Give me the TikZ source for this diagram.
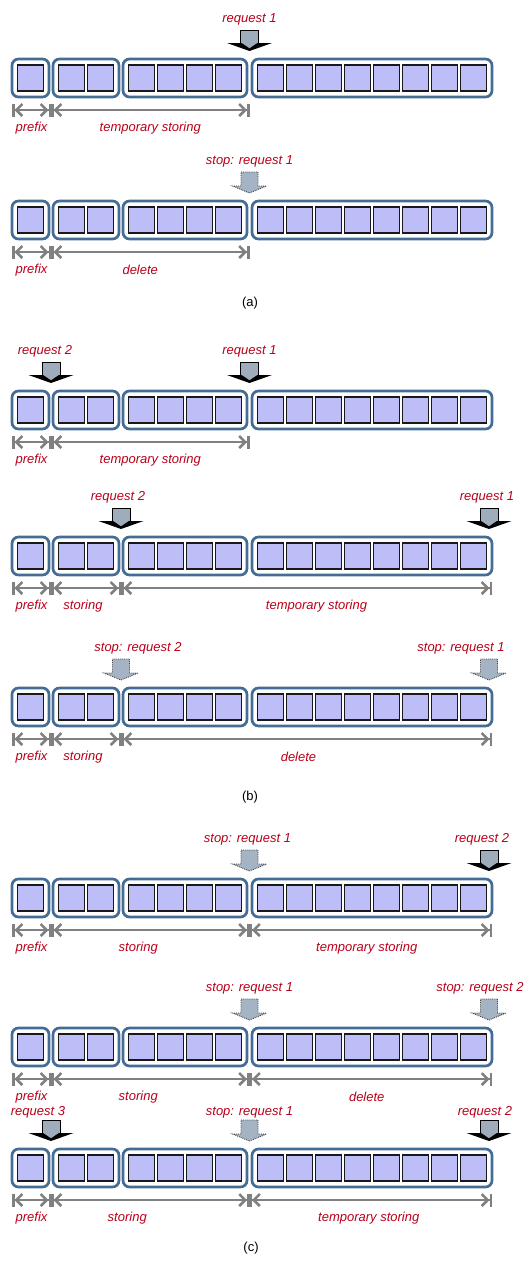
\documentclass[tikz,border=0pt]{standalone}
\usepackage{fontspec}
\setmainfont{Liberation Sans}
\usepackage{xcolor}
\usepackage{tikz}
\usetikzlibrary{arrows.meta,positioning,calc}

\definecolor{cellfill}{RGB}{189,189,247}
\definecolor{grpblue}{RGB}{68,108,148}
\definecolor{dimgrey}{RGB}{128,128,128}
\definecolor{labred}{RGB}{185,0,25}
\definecolor{arrfill}{RGB}{158,172,188}
\definecolor{stopfill}{RGB}{165,180,196}

\tikzset{
  reqarrow/.pic={
    \fill[black] (-22.5,-8) -- (22.5,-8) -- (0,0) -- cycle;
    \filldraw[fill=arrfill, draw=black, line width=0.8pt] (-9,-21) rectangle (9,-8);
    \fill[arrfill] (-8.2,-8.4) -- (8.2,-8.4) -- (0,-2.8) -- cycle;
  },
  stoparrow/.pic={
    \filldraw[fill=stopfill, draw=black!75, densely dotted, line width=0.9pt]
      (-8.5,-21) -- (8.5,-21) -- (8.5,-7) -- (17,-7) -- (0,0)
      -- (-17,-7) -- (-8.5,-7) -- cycle;
  }
}

% one buffer row: #1 = name, #2 = centre y
\newcommand{\bufrow}[2]{%
  \node[grp, minimum width=37pt]  (#1g1) at (30.5,#2) {};
  \node[grp, minimum width=66pt]  (#1g2) at (86,#2)   {};
  \node[grp, minimum width=124pt] (#1g3) at (185,#2)  {};
  \node[grp, minimum width=240pt] (#1g4) at (372,#2)  {};
  \node[cell] (#1p0) at (30.5,#2) {};
  \foreach \k in {0,1} {\node[cell] (#1s\k) at (71.5+29*\k,#2) {};}
  \foreach \k in {0,...,3} {\node[cell] (#1m\k) at (141.5+29*\k,#2) {};}
  \foreach \k in {0,...,7} {\node[cell] (#1r\k) at (270.5+29*\k,#2) {};}
  \foreach \bx [count=\i from 0] in {12,51,121,249.5,492}
    {\coordinate (#1d\i) at (\bx,#2+32);}
  \foreach \bx [count=\i from 0] in {12,51,121,249.5,489}
    {\coordinate (#1t\i) at (\bx,#2-27);}
}

\begin{document}
\begin{tikzpicture}[
  x=1pt, y=-1pt,
  grp/.style={rectangle, rounded corners=6.5pt, draw=grpblue, line width=2.7pt,
              fill=white, minimum height=38pt, inner sep=0pt},
  cell/.style={rectangle, draw=black!90, line width=1.4pt, fill=cellfill,
               minimum width=26pt, minimum height=26pt, inner sep=0pt},
  dim/.style={draw=dimgrey, line width=2.5pt,
              {Bar[width=13pt]Straight Barb[length=6pt,width=12pt]}-{Straight Barb[length=6pt,width=12pt]Bar[width=13pt]}},
  lbl/.style={font=\itshape\fontsize{13}{15}\selectfont, text=labred, inner sep=1pt},
  captext/.style={font=\fontsize{13}{15}\selectfont, inner sep=1pt}
]
\useasboundingbox (0,0) rectangle (527,1262);

% (a)
\bufrow{a1}{78}
\pic at (a1t3) {reqarrow};
\node[lbl, above=25pt of a1t3] (a1q3) {request 1};
\draw[dim] (a1d0) -- (a1d1);
\draw[dim] (a1d1) -- (a1d3);
\node[lbl] (a1n1) at ($(a1d0)!.5!(a1d1)+(0,18)$) {prefix};
\node[lbl] (a1n2) at ($(a1d1)!.5!(a1d3)+(0,18)$) {temporary storing};

\bufrow{a2}{220}
\pic at (a2t3) {stoparrow};
\node[lbl, above=25pt of a2t3] (a2q3) {stop: request 1};
\draw[dim] (a2d0) -- (a2d1);
\draw[dim] (a2d1) -- (a2d3);
\node[lbl] (a2n1) at ($(a2d0)!.5!(a2d1)+(0,18)$) {prefix};
\node[lbl] (a2n2) at ($(a2d1)!.5!(a2d3)+(-10,18)$) {delete};

\node[captext] (capa) at (250,303) {(a)};

% (b)
\bufrow{b1}{410}
\pic at (b1t1) {reqarrow};
\pic at (b1t3) {reqarrow};
\node[lbl, above=25pt of b1t1, xshift=-6pt] (b1q1) {request 2};
\node[lbl, above=25pt of b1t3] (b1q3) {request 1};
\draw[dim] (b1d0) -- (b1d1);
\draw[dim] (b1d1) -- (b1d3);
\node[lbl] (b1n1) at ($(b1d0)!.5!(b1d1)+(0,18)$) {prefix};
\node[lbl] (b1n2) at ($(b1d1)!.5!(b1d3)+(0,18)$) {temporary storing};

\bufrow{b2}{556}
\pic at (b2t2) {reqarrow};
\pic at (b2t4) {reqarrow};
\node[lbl, above=25pt of b2t2, xshift=-3pt] (b2q2) {request 2};
\node[lbl, above=25pt of b2t4, xshift=-2pt] (b2q4) {request 1};
\draw[dim] (b2d0) -- (b2d1);
\draw[dim] (b2d1) -- (b2d2);
\draw[dim] (b2d2) -- (b2d4);
\node[lbl] (b2n1) at ($(b2d0)!.5!(b2d1)+(0,18)$) {prefix};
\node[lbl] (b2n2) at ($(b2d1)!.5!(b2d2)+(-3,18)$) {storing};
\node[lbl] (b2n3) at ($(b2d2)!.5!(b2d4)+(10,18)$) {temporary storing};

\bufrow{b3}{707}
\pic at (b3t2) {stoparrow};
\pic at (b3t4) {stoparrow};
\node[lbl, above=25pt of b3t2, xshift=17pt] (b3q2) {stop: request 2};
\node[lbl, above=25pt of b3t4, xshift=-28pt] (b3q4) {stop: request 1};
\draw[dim] (b3d0) -- (b3d1);
\draw[dim] (b3d1) -- (b3d2);
\draw[dim] (b3d2) -- (b3d4);
\node[lbl] (b3n1) at ($(b3d0)!.5!(b3d1)+(0,18)$) {prefix};
\node[lbl] (b3n2) at ($(b3d1)!.5!(b3d2)+(-3,18)$) {storing};
\node[lbl] (b3n3) at ($(b3d2)!.5!(b3d4)+(-8,18)$) {delete};

\node[captext] (capb) at (250,797) {(b)};

% (c)
\bufrow{c1}{898}
\pic at (c1t3) {stoparrow};
\pic at (c1t4) {reqarrow};
\node[lbl, above=25pt of c1t3, xshift=-2pt] (c1q3) {stop: request 1};
\node[lbl, above=25pt of c1t4, xshift=-7pt] (c1q4) {request 2};
\draw[dim] (c1d0) -- (c1d1);
\draw[dim] (c1d1) -- (c1d3);
\draw[dim] (c1d3) -- (c1d4);
\node[lbl] (c1n1) at ($(c1d0)!.5!(c1d1)+(0,18)$) {prefix};
\node[lbl] (c1n2) at ($(c1d1)!.5!(c1d3)+(-12,18)$) {storing};
\node[lbl] (c1n3) at ($(c1d3)!.5!(c1d4)+(-4,18)$) {temporary storing};

\bufrow{c2}{1047}
\pic at (c2t3) {stoparrow};
\pic at (c2t4) {stoparrow};
\node[lbl, above=25pt of c2t3] (c2q3) {stop: request 1};
\node[lbl, above=25pt of c2t4, xshift=-9pt] (c2q4) {stop: request 2};
\draw[dim] (c2d0) -- (c2d1);
\draw[dim] (c2d1) -- (c2d3);
\draw[dim] (c2d3) -- (c2d4);
\node[lbl] (c2n1) at ($(c2d0)!.5!(c2d1)+(0,18)$) {prefix};
\node[lbl] (c2n2) at ($(c2d1)!.5!(c2d3)+(-12,18)$) {storing};
\node[lbl] (c2n3) at ($(c2d3)!.5!(c2d4)+(-4,18)$) {delete};

\bufrow{c3}{1168}
\pic at (c3t1) {reqarrow};
\pic at (c3t3) {stoparrow};
\pic at (c3t4) {reqarrow};
\node[lbl, above=22pt of c3t1, xshift=-13pt] (c3q1) {request 3};
\node[lbl, above=22pt of c3t3] (c3q3) {stop: request 1};
\node[lbl, above=22pt of c3t4, xshift=-4pt] (c3q4) {request 2};
\draw[dim] (c3d0) -- (c3d1);
\draw[dim] (c3d1) -- (c3d3);
\draw[dim] (c3d3) -- (c3d4);
\node[lbl] (c3n1) at ($(c3d0)!.5!(c3d1)+(0,18)$) {prefix};
\node[lbl] (c3n2) at ($(c3d1)!.5!(c3d3)+(-23,18)$) {storing};
\node[lbl] (c3n3) at ($(c3d3)!.5!(c3d4)+(-2,18)$) {temporary storing};

\node[captext] (capc) at (251,1248) {(c)};
\end{tikzpicture}
\end{document}
